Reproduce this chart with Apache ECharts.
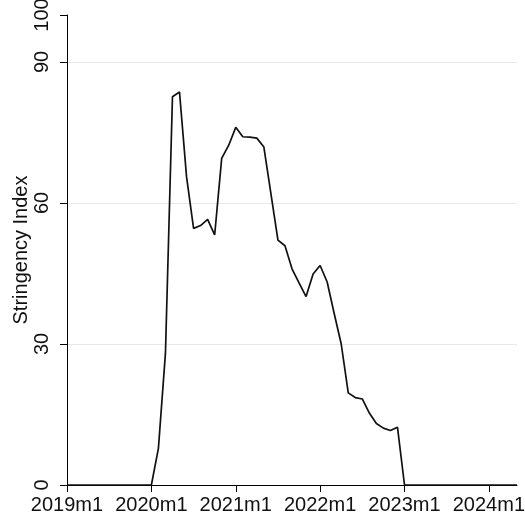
<!DOCTYPE html>
<html>
<head>
<meta charset="utf-8">
<script src="https://cdn.jsdelivr.net/npm/echarts@6/dist/echarts.min.js"></script>
<style>
html,body{margin:0;padding:0;background:#fff;}
#chart{width:525px;height:515px;}
</style>
</head>
<body>
<div id="chart"></div>
<script>
// Monthly categories 2019m1 .. 2024m5
const months = [];
for (let y = 2019; y <= 2024; y++) {
  for (let m = 1; m <= 12; m++) {
    if (y === 2024 && m > 5) break;
    months.push(y + 'm' + m);
  }
}
const values2019 = [0,0,0,0,0,0,0,0,0,0,0,0];
const values2020 = [0,7.8,28,82.6,83.6,65.6,54.6,55.2,56.5,53.2,69.5,72.3];
const values2021 = [76.1,74.1,74.0,73.8,71.9,62,52.1,50.9,46,43,40.1,44.9];
const values2022 = [46.7,43.2,36.5,30,19.6,18.6,18.3,15.3,13.1,12.1,11.6,12.3];
const values2023 = [0,0,0,0,0,0,0,0,0,0,0,0];
const values2024 = [0,0,0,0,0];
const stringency = [].concat(values2019, values2020, values2021, values2022, values2023, values2024);
const yTitle = 'Stringency Index';

const font = "'Liberation Sans', Arial, sans-serif";
const chart = echarts.init(document.getElementById('chart'), null, {renderer: 'canvas'});
chart.setOption({
  animation: false,
  grid: {left: 67, right: 8, top: 15, bottom: 30, containLabel: false, outerBoundsMode: 'none'},
  xAxis: {
    type: 'category',
    data: months,
    boundaryGap: false,
    axisLine: {lineStyle: {color: '#000', width: 1}},
    axisTick: {
      length: 7, lineStyle: {color: '#000'},
      interval: function (i, v) { return /m1$/.test(v); }
    },
    axisLabel: {
      interval: function (i, v) { return /m1$/.test(v); },
      fontFamily: font, fontSize: 20, color: '#111', margin: 10
    },
    splitLine: {show: false}
  },
  yAxis: {
    type: 'value',
    min: 0, max: 100, interval: 30,
    name: yTitle,
    nameLocation: 'middle',
    nameGap: 36,
    nameMoveOverlap: false,
    nameRotate: 90,
    nameTextStyle: {fontFamily: font, fontSize: 20, color: '#111'},
    axisLine: {show: true, lineStyle: {color: '#000', width: 1}},
    axisTick: {show: true, length: 7, lineStyle: {color: '#000'}},
    axisLabel: {rotate: 90, fontFamily: font, fontSize: 20, color: '#111', margin: 15},
    splitLine: {show: true, lineStyle: {color: ['rgba(0,0,0,0)', '#e8e8e8', '#e8e8e8', '#e8e8e8', 'rgba(0,0,0,0)'], width: 1}}
  },
  series: [{
    type: 'line',
    data: stringency,
    symbol: 'none',
    lineStyle: {color: '#111', width: 1.7},
    z: 3
  }]
});
</script>
</body>
</html>
